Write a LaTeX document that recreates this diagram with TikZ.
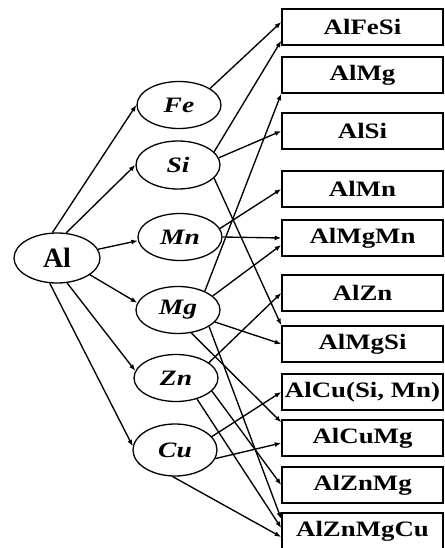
\documentclass[tikz,border=0pt]{standalone}
\usepackage{fontspec}
\setmainfont{Liberation Serif}
\newfontfamily\boxfont[FakeStretch=1.22]{Liberation Serif}
\newfontfamily\elfont[FakeStretch=1.25]{Liberation Serif}
\usetikzlibrary{shapes.geometric,arrows.meta}
\begin{document}
\begin{tikzpicture}[x=1pt,y=-1pt,
  el/.style={ellipse,draw,line width=1.3pt,minimum width=84pt,minimum height=47pt,inner sep=0pt,
    font=\elfont\fontsize{22}{22}\selectfont\bfseries\itshape},
  bx/.style={rectangle,draw,line width=1.5pt,minimum width=161pt,minimum height=36pt,inner sep=0pt,
    font=\boxfont\fontsize{22}{22}\selectfont\bfseries},
  arr/.style={line width=1.35pt,-{Latex[length=6.5pt,width=5pt]}}]
\useasboundingbox (0,0) rectangle (444,548);
% element ellipses
\node[el,minimum width=86pt,minimum height=50pt,font=\fontsize{28}{28}\selectfont\bfseries] (Al) at (57,258) {Al};
\node[el] (Fe) at (179,105) {Fe};
\node[el,minimum height=48pt] (Si) at (178,165) {Si};
\node[el] (Mn) at (180,237) {Mn};
\node[el] (Mg) at (178,310) {Mg};
\node[el] (Zn) at (176,378) {Zn};
\node[el,minimum height=52pt] (Cu) at (175,450) {Cu};
% alloy boxes
\node[bx] (AlFeSi) at (362.5,27) {AlFeSi};
\node[bx] (AlMg) at (362.5,75) {AlMg};
\node[bx] (AlSi) at (362.5,131) {AlSi};
\node[bx] (AlMn) at (362.5,189) {AlMn};
\node[bx] (AlMgMn) at (362.5,238) {AlMgMn};
\node[bx] (AlZn) at (362.5,293) {AlZn};
\node[bx] (AlMgSi) at (362.5,344) {AlMgSi};
\node[bx] (AlCuSiMn) at (362.5,392) {AlCu(Si, Mn)};
\node[bx] (AlCuMg) at (362.5,438) {AlCuMg};
\node[bx] (AlZnMg) at (362.5,485) {AlZnMg};
\node[bx] (AlZnMgCu) at (362.5,531) {AlZnMgCu};
% Al to elements
\draw[arr] (Al.100) -- (Fe.west);
\draw[arr] (Al.70) -- (Si.west);
\draw[arr] (Al.12) -- (Mn.185);
\draw[arr] (Al.-27) -- (Mg.170);
\draw[arr] (Al.-68) -- (Zn.170);
\draw[arr] (Al.-106) -- (Cu.175);
% Fe
\draw[arr] (Fe.28) -- ([yshift=5pt]AlFeSi.west);
% Si
\draw[arr] (Si.20) -- ([yshift=5pt]AlFeSi.south west);
\draw[arr] (Si.10) -- (AlSi.west);
\draw[arr] (Si.-20) -- (AlMgSi.north west);
% Mn
\draw[arr] (Mn.12) -- (AlMn.west);
\draw[arr] (Mn.east) -- (AlMgMn.west);
% Mg
\draw[arr] (Mg.35) -- (AlMg.south west);
\draw[arr] (Mg.22) -- ([yshift=-7pt]AlMgMn.west);
\draw[arr] (Mg.-18) -- (AlMgSi.west);
\draw[arr] (Mg.-60) -- ([yshift=-3pt]AlCuMg.north west);
\draw[arr] (Mg.-28) -- ([yshift=12pt]AlZnMgCu.west);
% Zn
\draw[arr] (Zn.25) -- (AlZn.west);
\draw[arr] (Zn.-20) -- (AlZnMg.west);
\draw[arr] (Zn.-45) -- ([yshift=3pt]AlZnMgCu.west);
% Cu
\draw[arr] (Cu.20) -- (AlCuSiMn.west);
\draw[arr] (Cu.-12) -- ([yshift=-5pt]AlCuMg.west);
\draw[arr] (Cu.-95) -- ([yshift=-6pt]AlZnMgCu.west);
\end{tikzpicture}
\end{document}
